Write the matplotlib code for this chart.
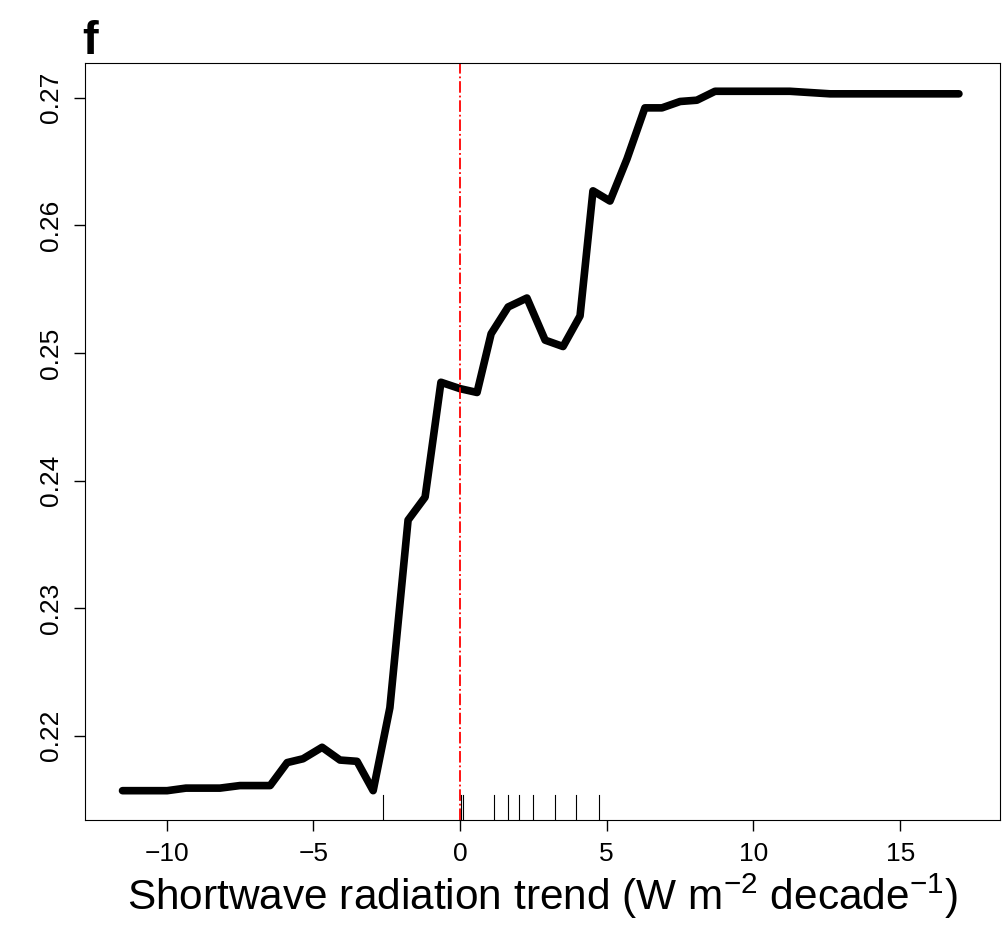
import matplotlib
matplotlib.use("Agg")
import matplotlib.pyplot as plt

plt.rcParams["font.family"] = ["Liberation Sans", "DejaVu Sans"]
plt.rcParams["mathtext.fontset"] = "custom"
plt.rcParams["mathtext.rm"] = "Liberation Sans"

sw_trend = [-11.5, -9.98, -9.34, -8.18, -7.50, -6.47, -5.89, -5.35, -4.70, -4.09, -3.51,
            -2.96, -2.39, -1.77, -1.19, -0.65, 0.0, 0.58, 1.06, 1.64, 2.28, 2.90, 3.51,
            4.09, 4.53, 5.11, 5.69, 6.30, 6.88, 7.50, 8.07, 8.69, 10.22, 11.24, 12.61, 17.0]
partial = [0.2157, 0.2157, 0.2159, 0.2159, 0.2161, 0.2161, 0.2179, 0.2182, 0.2191, 0.2181,
           0.2180, 0.2157, 0.2222, 0.2369, 0.2387, 0.2477, 0.2472, 0.2469, 0.2515, 0.2536,
           0.2543, 0.2510, 0.2505, 0.2529, 0.2627, 0.2619, 0.2652, 0.2692, 0.2692, 0.2697,
           0.2698, 0.2705, 0.2705, 0.2705, 0.2703, 0.2703]
rug = [-2.62, 0.02, 0.09, 1.16, 1.64, 2.01, 2.49, 3.24, 3.95, 4.74]

fig = plt.figure(figsize=(10.02, 9.39), dpi=100)
ax = fig.add_axes([0.0848, 0.1267, 0.9132, 0.806])
ax.plot(sw_trend, partial, color="black", lw=5.5, solid_capstyle="round", solid_joinstyle="round")
ax.axvline(0, color="red", ls="-.", lw=1.3)
for r in rug:
    ax.plot([r, r], [0.2134, 0.21535], color="black", lw=0.8)
ax.set_xlim(-12.78, 18.4)
ax.set_ylim(0.2134, 0.2727)
ax.set_xticks([-10, -5, 0, 5, 10, 15])
ax.set_xticklabels(["\u221210", "\u22125", "0", "5", "10", "15"])
ax.set_yticks([0.22, 0.23, 0.24, 0.25, 0.26, 0.27])
ax.set_yticklabels(["0.22", "0.23", "0.24", "0.25", "0.26", "0.27"], rotation=90, va="center")
ax.tick_params(labelsize=19, length=8, width=1, pad=8)
ax.set_xlabel(r"Shortwave radiation trend (W m$^{-2}$ decade$^{-1}$)", fontsize=30.5, labelpad=4)
fig.text(0.082, 0.942, "f", fontsize=34, fontweight="bold")
fig.savefig("out.png", dpi=100)
